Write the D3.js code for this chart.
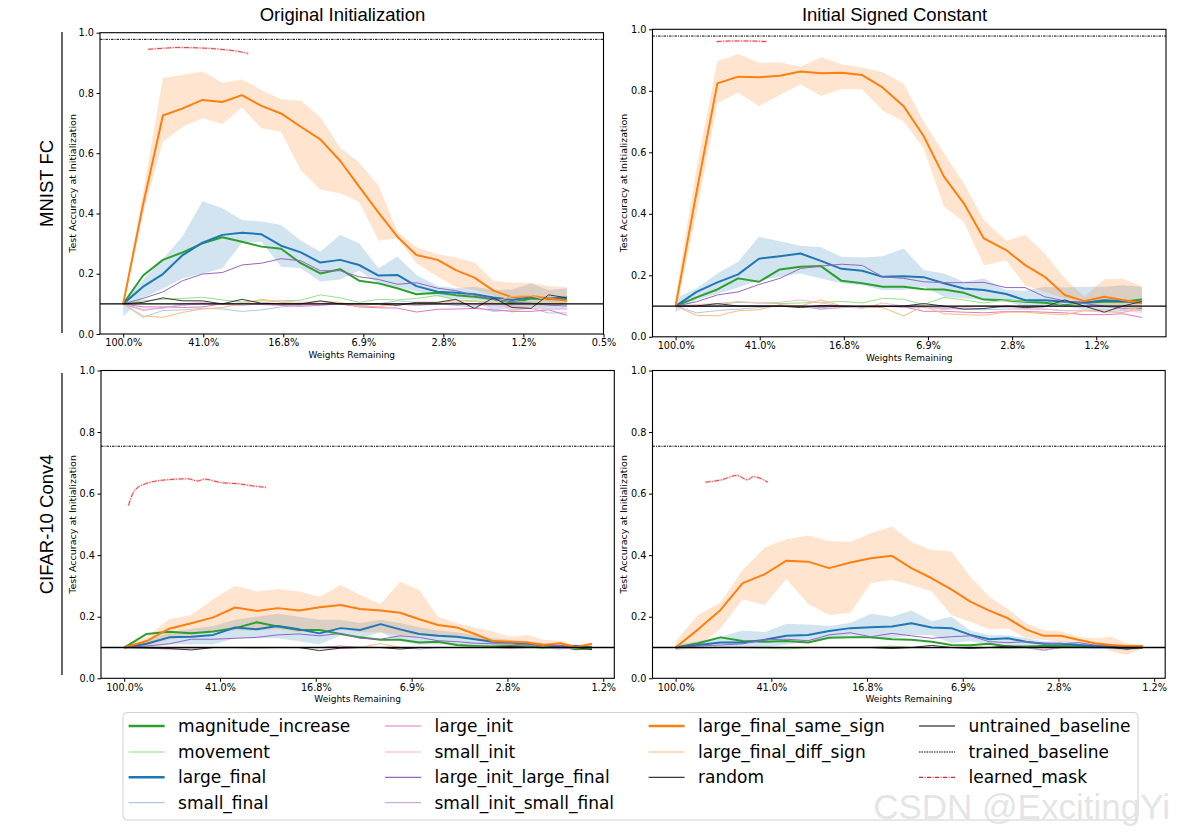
<!DOCTYPE html>
<html><head><meta charset="utf-8">
<script src="https://cdn.jsdelivr.net/npm/d3@7"></script>
<style>body{margin:0;background:#fff}</style>
</head><body><svg id="c" width="1188" height="837"></svg>
<script>
// ---------- categories / ticks ----------
const seriesKeys = ["magnitude_increase","movement","large_final","small_final","large_init","small_init",
  "large_init_large_final","small_init_small_final","large_final_same_sign","large_final_diff_sign","random"];
const legendKeys = ["magnitude_increase","movement","large_final","small_final","large_init","small_init",
  "large_init_large_final","small_init_small_final","large_final_same_sign","large_final_diff_sign","random",
  "untrained_baseline","trained_baseline","learned_mask"];
const colTitles = ["Original Initialization","Initial Signed Constant"];
const rowTitles = ["MNIST FC","CIFAR-10 Conv4"];
const xTickValues = [100, 40.96, 16.78, 6.872, 2.815, 1.153, 0.472];
const xTickLabels = ["100.0%","41.0%","16.8%","6.9%","2.8%","1.2%","0.5%"];
const yTickValues = [0, 0.2, 0.4, 0.6, 0.8, 1.0];
// weights remaining (%) at each pruning iteration
const mnistRemaining = [100,80.1,64.2,51.5,41.3,33.1,26.6,21.4,17.2,13.8,11.1,8.9,7.2,5.8,4.7,3.8,3.0,2.45,1.99,1.61,1.31,1.06,0.87,0.71];
const cifarRemaining = [100,81.1,65.8,53.5,43.6,35.6,29.1,23.9,19.6,16.2,13.3,11.1,9.18,7.65,6.40,5.37,4.51,3.81,3.23,2.75,2.34,2.01,1.72,1.49,1.28];
const untrainedBaseline = 0.1;
const mnistTrained = 0.978;
const cifarTrained = 0.754;

// ---------- MNIST FC, original initialization ----------
const tl_magnitude_increase = [0.10,0.194,0.246,0.271,0.301,0.321,0.306,0.290,0.283,0.235,0.201,0.215,0.177,0.168,0.152,0.132,0.137,0.129,0.124,0.115,0.104,0.118,0.115,0.115];
const tl_movement = [0.10,0.11,0.115,0.118,0.122,0.113,0.106,0.11,0.11,0.112,0.13,0.12,0.105,0.115,0.113,0.118,0.128,0.113,0.11,0.10,0.11,0.105,0.10,0.10];
const tl_large_final = [0.10,0.157,0.199,0.262,0.303,0.329,0.336,0.331,0.293,0.271,0.237,0.246,0.229,0.194,0.196,0.159,0.14,0.137,0.132,0.121,0.113,0.122,0.118,0.121];
const tl_small_final = [0.10,0.055,0.078,0.08,0.085,0.083,0.075,0.08,0.09,0.095,0.10,0.098,0.095,0.10,0.11,0.105,0.10,0.095,0.09,0.075,0.08,0.085,0.07,0.07];
const tl_large_init = [0.10,0.09,0.09,0.088,0.09,0.10,0.102,0.098,0.095,0.092,0.095,0.10,0.09,0.087,0.086,0.073,0.082,0.083,0.085,0.08,0.075,0.075,0.08,0.062];
const tl_small_init = [0.10,0.082,0.085,0.10,0.105,0.098,0.10,0.102,0.11,0.105,0.108,0.10,0.095,0.09,0.10,0.095,0.10,0.10,0.095,0.095,0.09,0.085,0.082,0.085];
const tl_large_init_large_final = [0.10,0.118,0.14,0.177,0.199,0.204,0.229,0.235,0.25,0.243,0.21,0.21,0.19,0.181,0.165,0.17,0.152,0.144,0.129,0.115,0.107,0.102,0.096,0.093];
const tl_small_init_small_final = [0.10,0.078,0.088,0.095,0.10,0.098,0.095,0.10,0.10,0.098,0.10,0.10,0.095,0.10,0.10,0.095,0.10,0.105,0.10,0.10,0.095,0.10,0.10,0.095];
const tl_large_final_same_sign = [0.10,0.43,0.725,0.749,0.777,0.77,0.793,0.757,0.732,0.688,0.646,0.575,0.489,0.403,0.323,0.262,0.246,0.212,0.187,0.144,0.122,0.126,0.118,0.11];
const tl_large_final_diff_sign = [0.10,0.06,0.055,0.072,0.083,0.088,0.10,0.115,0.105,0.10,0.108,0.105,0.09,0.092,0.10,0.10,0.105,0.11,0.108,0.105,0.125,0.128,0.11,0.10];
const tl_random = [0.10,0.105,0.12,0.11,0.11,0.10,0.115,0.102,0.10,0.10,0.11,0.10,0.10,0.10,0.095,0.105,0.105,0.115,0.085,0.12,0.088,0.085,0.13,0.12];
const tl_same_sign_hi = [0.105,0.47,0.85,0.86,0.871,0.834,0.845,0.81,0.779,0.774,0.719,0.618,0.569,0.492,0.34,0.288,0.265,0.254,0.237,0.177,0.17,0.17,0.159,0.155];
const tl_same_sign_lo = [0.095,0.40,0.638,0.688,0.716,0.697,0.752,0.683,0.671,0.544,0.48,0.467,0.439,0.31,0.317,0.235,0.19,0.157,0.146,0.129,0.069,0.091,0.091,0.096];
const tl_large_final_hi = [0.105,0.18,0.248,0.325,0.441,0.417,0.378,0.373,0.362,0.31,0.273,0.329,0.301,0.218,0.257,0.196,0.159,0.152,0.157,0.146,0.148,0.168,0.146,0.152];
const tl_large_final_lo = [0.058,0.12,0.15,0.185,0.20,0.218,0.303,0.306,0.223,0.218,0.174,0.181,0.21,0.168,0.157,0.14,0.124,0.118,0.113,0.074,0.088,0.088,0.08,0.08];
const tl_mask_x = [75.7,61.5,54.6,41.3,33.8,27.7,24.8];
const tl_mask_y = [0.945,0.949,0.951,0.949,0.945,0.938,0.931];

// ---------- MNIST FC, initial signed constant ----------
const tr_magnitude_increase = [0.10,0.128,0.154,0.19,0.179,0.219,0.228,0.23,0.182,0.174,0.163,0.163,0.155,0.154,0.143,0.121,0.119,0.114,0.111,0.103,0.111,0.114,0.114,0.121];
const tr_movement = [0.10,0.10,0.105,0.112,0.11,0.108,0.11,0.112,0.115,0.11,0.125,0.122,0.105,0.128,0.12,0.11,0.12,0.115,0.12,0.10,0.11,0.12,0.12,0.11];
const tr_large_final = [0.10,0.146,0.177,0.203,0.254,0.262,0.271,0.247,0.221,0.215,0.195,0.197,0.194,0.174,0.157,0.152,0.139,0.119,0.119,0.114,0.111,0.119,0.116,0.111];
const tr_small_final = [0.10,0.078,0.085,0.09,0.095,0.10,0.098,0.09,0.095,0.095,0.10,0.095,0.095,0.092,0.09,0.088,0.09,0.09,0.09,0.085,0.085,0.09,0.085,0.085];
const tr_large_init = [0.10,0.10,0.10,0.10,0.10,0.10,0.10,0.095,0.10,0.098,0.10,0.098,0.083,0.083,0.08,0.078,0.082,0.082,0.08,0.078,0.072,0.072,0.075,0.063];
const tr_small_init = [0.10,0.105,0.108,0.115,0.11,0.112,0.12,0.11,0.10,0.092,0.11,0.10,0.10,0.088,0.095,0.10,0.095,0.092,0.09,0.085,0.085,0.08,0.08,0.09];
const tr_large_init_large_final = [0.10,0.114,0.136,0.146,0.17,0.19,0.222,0.23,0.236,0.232,0.195,0.19,0.179,0.176,0.176,0.177,0.16,0.16,0.13,0.117,0.108,0.10,0.092,0.092];
const tr_small_init_small_final = [0.10,0.10,0.10,0.10,0.10,0.10,0.10,0.09,0.095,0.10,0.10,0.10,0.095,0.095,0.10,0.10,0.10,0.10,0.10,0.10,0.10,0.098,0.09,0.095];
const tr_large_final_same_sign = [0.10,0.47,0.824,0.846,0.844,0.849,0.863,0.857,0.859,0.851,0.81,0.75,0.653,0.521,0.434,0.32,0.282,0.233,0.195,0.136,0.116,0.13,0.12,0.11];
const tr_large_final_diff_sign = [0.10,0.07,0.068,0.085,0.088,0.105,0.10,0.12,0.10,0.098,0.095,0.068,0.10,0.075,0.072,0.07,0.08,0.08,0.075,0.072,0.085,0.085,0.078,0.10];
const tr_random = [0.10,0.10,0.108,0.10,0.10,0.10,0.095,0.102,0.10,0.098,0.098,0.10,0.108,0.10,0.09,0.092,0.10,0.095,0.098,0.12,0.10,0.08,0.10,0.115];
const tr_same_sign_hi = [0.13,0.55,0.895,0.92,0.891,0.893,0.878,0.909,0.886,0.876,0.86,0.824,0.70,0.597,0.499,0.38,0.312,0.331,0.271,0.19,0.13,0.187,0.19,0.163];
const tr_same_sign_lo = [0.08,0.40,0.76,0.794,0.75,0.786,0.821,0.783,0.806,0.805,0.735,0.70,0.613,0.423,0.374,0.233,0.249,0.168,0.146,0.125,0.108,0.10,0.087,0.076];
const tr_large_final_hi = [0.125,0.157,0.206,0.244,0.325,0.311,0.296,0.291,0.26,0.258,0.262,0.287,0.217,0.206,0.179,0.19,0.152,0.15,0.163,0.16,0.163,0.163,0.168,0.163];
const tr_large_final_lo = [0.08,0.12,0.14,0.16,0.184,0.195,0.206,0.19,0.174,0.168,0.152,0.152,0.163,0.13,0.125,0.119,0.114,0.098,0.098,0.10,0.087,0.092,0.092,0.087];
const tr_mask_x = [64.8,55.0,46.0,38.2];
const tr_mask_y = [0.960,0.962,0.962,0.960];

// ---------- CIFAR-10 Conv4, original initialization ----------
const bl_magnitude_increase = [0.10,0.144,0.151,0.146,0.152,0.163,0.182,0.168,0.157,0.157,0.144,0.133,0.125,0.125,0.116,0.119,0.108,0.105,0.103,0.105,0.103,0.10,0.103,0.094,0.097];
const bl_movement = [0.10,0.10,0.10,0.10,0.10,0.10,0.098,0.10,0.10,0.10,0.10,0.102,0.10,0.10,0.10,0.10,0.10,0.102,0.10,0.10,0.10,0.10,0.10,0.10,0.10];
const bl_large_final = [0.10,0.112,0.133,0.135,0.141,0.165,0.159,0.17,0.159,0.146,0.163,0.157,0.176,0.159,0.144,0.138,0.135,0.127,0.119,0.116,0.112,0.108,0.103,0.105,0.101];
const bl_small_final = [0.10,0.10,0.10,0.098,0.10,0.10,0.10,0.10,0.10,0.10,0.10,0.10,0.10,0.10,0.10,0.10,0.10,0.10,0.10,0.10,0.10,0.10,0.10,0.098,0.10];
const bl_large_init = [0.10,0.10,0.098,0.10,0.10,0.10,0.10,0.10,0.10,0.10,0.105,0.10,0.10,0.10,0.10,0.10,0.10,0.10,0.10,0.098,0.10,0.10,0.10,0.098,0.10];
const bl_small_init = [0.10,0.10,0.093,0.095,0.10,0.10,0.10,0.10,0.10,0.10,0.10,0.10,0.10,0.10,0.10,0.10,0.10,0.10,0.10,0.10,0.10,0.10,0.10,0.10,0.10];
const bl_large_init_large_final = [0.10,0.105,0.112,0.127,0.127,0.13,0.133,0.141,0.144,0.138,0.146,0.13,0.127,0.138,0.133,0.122,0.119,0.114,0.112,0.112,0.108,0.108,0.105,0.103,0.10];
const bl_small_init_small_final = [0.10,0.10,0.10,0.10,0.10,0.10,0.10,0.10,0.10,0.10,0.10,0.10,0.10,0.10,0.095,0.10,0.10,0.10,0.10,0.10,0.10,0.10,0.095,0.10,0.10];
const bl_large_final_same_sign = [0.10,0.121,0.161,0.179,0.198,0.23,0.219,0.228,0.22,0.231,0.238,0.225,0.22,0.213,0.192,0.173,0.165,0.144,0.121,0.119,0.116,0.108,0.114,0.101,0.112];
const bl_large_final_diff_sign = [0.10,0.10,0.10,0.10,0.10,0.10,0.10,0.10,0.10,0.10,0.10,0.10,0.113,0.10,0.10,0.10,0.10,0.10,0.10,0.10,0.10,0.10,0.10,0.10,0.10];
const bl_random = [0.10,0.098,0.097,0.092,0.10,0.10,0.10,0.10,0.10,0.09,0.098,0.10,0.10,0.095,0.10,0.10,0.10,0.10,0.10,0.103,0.10,0.10,0.10,0.10,0.093];
const bl_same_sign_hi = [0.105,0.135,0.192,0.206,0.257,0.301,0.282,0.29,0.282,0.265,0.303,0.271,0.241,0.314,0.287,0.20,0.179,0.165,0.152,0.135,0.141,0.125,0.122,0.108,0.114];
const bl_same_sign_lo = [0.095,0.105,0.125,0.14,0.15,0.155,0.155,0.16,0.15,0.155,0.16,0.15,0.15,0.14,0.14,0.135,0.13,0.125,0.11,0.105,0.105,0.10,0.10,0.095,0.10];
const bl_large_final_hi = [0.105,0.12,0.15,0.16,0.17,0.19,0.20,0.21,0.20,0.19,0.19,0.18,0.19,0.18,0.165,0.155,0.15,0.14,0.13,0.125,0.12,0.115,0.11,0.11,0.105];
const bl_large_final_lo = [0.095,0.10,0.11,0.11,0.11,0.13,0.13,0.13,0.12,0.11,0.14,0.13,0.15,0.12,0.11,0.11,0.11,0.105,0.105,0.10,0.10,0.10,0.095,0.095,0.095];
const bl_mask_x = [96.1,91.0,82.0,67.1,55.0,50.5,47.4,40.7,34.5,30.2,26.5];
const bl_mask_y = [0.561,0.609,0.632,0.645,0.648,0.641,0.647,0.636,0.632,0.625,0.62];

// ---------- CIFAR-10 Conv4, initial signed constant ----------
const br_magnitude_increase = [0.10,0.114,0.133,0.121,0.119,0.121,0.116,0.132,0.133,0.133,0.127,0.125,0.119,0.108,0.107,0.112,0.103,0.103,0.105,0.105,0.103,0.103,0.101,0.098,0.10];
const br_movement = [0.10,0.10,0.10,0.10,0.098,0.095,0.10,0.10,0.10,0.10,0.105,0.10,0.10,0.10,0.10,0.10,0.098,0.10,0.10,0.10,0.10,0.10,0.10,0.10,0.10];
const br_large_final = [0.10,0.108,0.116,0.116,0.125,0.138,0.141,0.154,0.163,0.166,0.168,0.179,0.165,0.163,0.141,0.127,0.13,0.119,0.112,0.112,0.108,0.105,0.103,0.098,0.101];
const br_small_final = [0.10,0.10,0.10,0.10,0.10,0.10,0.10,0.10,0.10,0.10,0.10,0.10,0.10,0.10,0.10,0.10,0.10,0.10,0.10,0.10,0.10,0.10,0.10,0.10,0.10];
const br_large_init = [0.10,0.10,0.10,0.10,0.10,0.10,0.10,0.10,0.10,0.10,0.10,0.10,0.10,0.10,0.10,0.10,0.10,0.10,0.092,0.10,0.10,0.10,0.10,0.10,0.10];
const br_small_init = [0.10,0.10,0.10,0.10,0.10,0.10,0.10,0.10,0.10,0.10,0.10,0.10,0.10,0.10,0.10,0.10,0.10,0.10,0.10,0.10,0.10,0.10,0.10,0.10,0.10];
const br_large_init_large_final = [0.10,0.105,0.108,0.112,0.125,0.127,0.122,0.141,0.148,0.135,0.146,0.138,0.13,0.135,0.138,0.119,0.116,0.119,0.114,0.112,0.116,0.108,0.108,0.10,0.10];
const br_small_init_small_final = [0.10,0.10,0.10,0.10,0.10,0.10,0.10,0.10,0.10,0.10,0.10,0.10,0.10,0.10,0.10,0.10,0.10,0.10,0.09,0.10,0.10,0.10,0.10,0.10,0.10];
const br_large_final_same_sign = [0.10,0.159,0.222,0.309,0.338,0.382,0.379,0.358,0.376,0.39,0.398,0.358,0.325,0.289,0.249,0.22,0.195,0.159,0.138,0.138,0.125,0.114,0.108,0.105,0.105];
const br_large_final_diff_sign = [0.10,0.098,0.10,0.10,0.10,0.10,0.10,0.10,0.10,0.10,0.10,0.10,0.10,0.10,0.10,0.10,0.10,0.10,0.10,0.10,0.10,0.10,0.10,0.10,0.10];
const br_random = [0.10,0.10,0.10,0.10,0.10,0.10,0.10,0.10,0.10,0.10,0.097,0.10,0.107,0.10,0.097,0.10,0.105,0.10,0.10,0.10,0.10,0.10,0.10,0.095,0.10];
const br_same_sign_hi = [0.12,0.206,0.246,0.352,0.425,0.452,0.464,0.446,0.444,0.471,0.493,0.444,0.417,0.412,0.33,0.265,0.224,0.179,0.157,0.152,0.135,0.13,0.135,0.114,0.108];
const br_same_sign_lo = [0.092,0.103,0.162,0.257,0.238,0.323,0.242,0.206,0.213,0.309,0.32,0.303,0.282,0.206,0.184,0.159,0.163,0.13,0.125,0.119,0.119,0.114,0.087,0.076,0.098];
const br_large_final_hi = [0.11,0.12,0.135,0.155,0.15,0.177,0.175,0.17,0.18,0.21,0.20,0.22,0.185,0.20,0.155,0.14,0.14,0.13,0.12,0.12,0.118,0.115,0.11,0.105,0.105];
const br_large_final_lo = [0.09,0.10,0.10,0.10,0.10,0.11,0.12,0.13,0.14,0.13,0.13,0.14,0.14,0.115,0.12,0.11,0.105,0.105,0.10,0.10,0.10,0.095,0.095,0.09,0.095];
const br_mask_x = [75.8,65.0,56.6,51.1,48.5,42.3];
const br_mask_y = [0.637,0.645,0.659,0.645,0.655,0.637];

// ---------- styles ----------
const colors = {
  magnitude_increase:"#2ca02c", movement:"#98df8a", large_final:"#1f77b4", small_final:"#aec7e8",
  large_init:"#e377c2", small_init:"#f7b6d2", large_init_large_final:"#9467bd", small_init_small_final:"#c5b0d5",
  large_final_same_sign:"#ff7f0e", large_final_diff_sign:"#ffbb78", random:"#3a3a3a",
  untrained_baseline:"#000", trained_baseline:"#000", learned_mask:"#d62728"};
const thick = new Set(["magnitude_increase","large_final","large_final_same_sign"]);
const SANS = '"DejaVu Sans", sans-serif';
const ARIAL = '"Liberation Sans", Arial, sans-serif';

const panels = [
  {pre:"tl", xs:mnistRemaining, trained:mnistTrained, box:{l:100,r:603.5,t:32.7,b:334}, xDomain:[129.5,0.472], ylabX:72.5, xlabY:355, maskX:tl_mask_x, maskY:tl_mask_y,
   bands:[["large_final",tl_large_final_lo,tl_large_final_hi],["large_final_same_sign",tl_same_sign_lo,tl_same_sign_hi]]},
  {pre:"tr", xs:mnistRemaining, trained:mnistTrained, box:{l:652.5,r:1166,t:29.3,b:336.8}, xDomain:[127.8,0.55], ylabX:623.5, xlabY:358.3, maskX:tr_mask_x, maskY:tr_mask_y,
   bands:[["large_final",tr_large_final_lo,tr_large_final_hi],["large_final_same_sign",tr_same_sign_lo,tr_same_sign_hi]]},
  {pre:"bl", xs:cifarRemaining, trained:cifarTrained, box:{l:101,r:614.3,t:370.5,b:678.3}, xDomain:[124.1,1.04], ylabX:72.5, xlabY:699.3, maskX:bl_mask_x, maskY:bl_mask_y,
   bands:[["large_final",bl_large_final_lo,bl_large_final_hi],["large_final_same_sign",bl_same_sign_lo,bl_same_sign_hi]]},
  {pre:"br", xs:cifarRemaining, trained:cifarTrained, box:{l:652.5,r:1165.2,t:370.5,b:678.3}, xDomain:[124.1,1.04], ylabX:623.5, xlabY:699.3, maskX:br_mask_x, maskY:br_mask_y,
   bands:[["large_final",br_large_final_lo,br_large_final_hi],["large_final_same_sign",br_same_sign_lo,br_same_sign_hi]]}
];
const seriesData = {
  tl:{magnitude_increase:tl_magnitude_increase,movement:tl_movement,large_final:tl_large_final,small_final:tl_small_final,large_init:tl_large_init,small_init:tl_small_init,large_init_large_final:tl_large_init_large_final,small_init_small_final:tl_small_init_small_final,large_final_same_sign:tl_large_final_same_sign,large_final_diff_sign:tl_large_final_diff_sign,random:tl_random},
  tr:{magnitude_increase:tr_magnitude_increase,movement:tr_movement,large_final:tr_large_final,small_final:tr_small_final,large_init:tr_large_init,small_init:tr_small_init,large_init_large_final:tr_large_init_large_final,small_init_small_final:tr_small_init_small_final,large_final_same_sign:tr_large_final_same_sign,large_final_diff_sign:tr_large_final_diff_sign,random:tr_random},
  bl:{magnitude_increase:bl_magnitude_increase,movement:bl_movement,large_final:bl_large_final,small_final:bl_small_final,large_init:bl_large_init,small_init:bl_small_init,large_init_large_final:bl_large_init_large_final,small_init_small_final:bl_small_init_small_final,large_final_same_sign:bl_large_final_same_sign,large_final_diff_sign:bl_large_final_diff_sign,random:bl_random},
  br:{magnitude_increase:br_magnitude_increase,movement:br_movement,large_final:br_large_final,small_final:br_small_final,large_init:br_large_init,small_init:br_small_init,large_init_large_final:br_large_init_large_final,small_init_small_final:br_small_init_small_final,large_final_same_sign:br_large_final_same_sign,large_final_diff_sign:br_large_final_diff_sign,random:br_random}
};

const svg = d3.select("#c");
svg.append("rect").attr("width",1188).attr("height",837).attr("fill","#fff");
const defs = svg.append("defs");

panels.forEach((p,i)=>{
  const b = p.box;
  const x = d3.scaleLog().domain(p.xDomain).range([b.l,b.r]);
  const y = d3.scaleLinear().domain([0,1]).range([b.b,b.t]);
  defs.append("clipPath").attr("id","clip"+i).append("rect")
    .attr("x",b.l).attr("y",b.t).attr("width",b.r-b.l).attr("height",b.b-b.t);
  const g = svg.append("g");
  const plot = g.append("g").attr("clip-path",`url(#clip${i})`);

  p.bands.forEach(([key,lo,hi])=>{
    const area = d3.area().x((d,j)=>x(p.xs[j])).y0((d,j)=>y(lo[j])).y1(d=>y(d));
    plot.append("path").datum(hi).attr("d",area).attr("fill",colors[key]).attr("fill-opacity",0.2).attr("stroke","none");
  });
  const sd = seriesData[p.pre];
  seriesKeys.forEach(k=>{
    const line = d3.line().x((d,j)=>x(p.xs[j])).y(d=>y(d));
    plot.append("path").datum(sd[k]).attr("d",line).attr("fill","none")
      .attr("stroke",colors[k]).attr("stroke-width",thick.has(k)?2:1).attr("stroke-linejoin","round");
  });
  const [x0,x1] = x.range();
  plot.append("line").attr("x1",x0).attr("x2",x1).attr("y1",y(untrainedBaseline)).attr("y2",y(untrainedBaseline))
    .attr("stroke","#000").attr("stroke-width",1.3);
  plot.append("line").attr("x1",x0).attr("x2",x1).attr("y1",y(p.trained)).attr("y2",y(p.trained))
    .attr("stroke","#000").attr("stroke-width",1).attr("stroke-dasharray","2.5,1,1,1");
  const maskLine = d3.line().x((d,j)=>x(p.maskX[j])).y(d=>y(d)).curve(d3.curveMonotoneX);
  plot.append("path").datum(p.maskY).attr("d",maskLine).attr("fill","none")
    .attr("stroke",colors.learned_mask).attr("stroke-opacity",0.15).attr("stroke-width",2.5);
  plot.append("path").datum(p.maskY).attr("d",maskLine).attr("fill","none")
    .attr("stroke",colors.learned_mask).attr("stroke-opacity",0.85).attr("stroke-width",1).attr("stroke-dasharray","5,1.5,1,1.5");

  // frame
  g.append("rect").attr("x",b.l).attr("y",b.t).attr("width",b.r-b.l).attr("height",b.b-b.t)
    .attr("fill","none").attr("stroke","#000").attr("stroke-width",1.1);

  const lo = Math.min(...p.xDomain), hiD = Math.max(...p.xDomain);
  const tv = xTickValues.filter(v=>v>=lo && v<=hiD);
  const xa = d3.axisBottom(x).tickValues(tv).tickFormat(v=>xTickLabels[xTickValues.indexOf(v)]).tickSize(3.5).tickPadding(2);
  const gx = g.append("g").attr("transform",`translate(0,${b.b})`).call(xa);
  gx.select(".domain").remove();
  gx.selectAll("text").style("font-size","9.7px").style("font-family",SANS).attr("fill","#000");
  const ya = d3.axisLeft(y).tickValues(yTickValues).tickFormat(d3.format(".1f")).tickSize(3.5).tickPadding(2.5);
  const gy = g.append("g").attr("transform",`translate(${b.l},0)`).call(ya);
  gy.select(".domain").remove();
  gy.selectAll("text").style("font-size","9.7px").style("font-family",SANS).attr("fill","#000");

  g.append("text").attr("x",(b.l+b.r)/2).attr("y",p.xlabY).attr("text-anchor","middle").attr("dominant-baseline","central")
    .style("font-family",SANS).style("font-size","9px").text("Weights Remaining");
  g.append("text").attr("transform",`translate(${p.ylabX},${(b.t+b.b)/2}) rotate(-90)`).attr("text-anchor","middle")
    .attr("dominant-baseline","central").style("font-family",SANS).style("font-size","9.5px").text("Test Accuracy at Initialization");
});

// column titles
[[342.5,colTitles[0]],[894.5,colTitles[1]]].forEach(([cx,t])=>{
  svg.append("text").attr("x",cx).attr("y",14).attr("text-anchor","middle").attr("dominant-baseline","central")
    .style("font-family",ARIAL).style("font-size","18.5px").text(t);
});
// row titles and brackets
[[183.4,rowTitles[0],32,333],[524.4,rowTitles[1],373,675]].forEach(([cy,t,y0,y1])=>{
  svg.append("text").attr("transform",`translate(46.7,${cy}) rotate(-90)`).attr("text-anchor","middle").attr("dominant-baseline","central")
    .style("font-family",ARIAL).style("font-size","18.5px").text(t);
  svg.append("line").attr("x1",62).attr("x2",62).attr("y1",y0).attr("y2",y1).attr("stroke","#000").attr("stroke-width",1.2);
});

// legend
const lg = svg.append("g");
lg.append("rect").attr("x",123).attr("y",712.5).attr("width",1015).attr("height",107.5).attr("rx",4)
  .attr("fill","#fff").attr("stroke","#d0d0d0").attr("stroke-width",1);
const colX = [128.6,385,648.6,919];
const rowY = [726,752,777.3,802.7];
const perCol = [4,4,3,3];
let idx = 0;
perCol.forEach((n,c)=>{
  for(let r=0;r<n;r++){
    const k = legendKeys[idx++];
    const ln = lg.append("line").attr("x1",colX[c]).attr("x2",colX[c]+36).attr("y1",rowY[r]).attr("y2",rowY[r])
      .attr("stroke",colors[k]).attr("stroke-width",thick.has(k)?2.5:1.2);
    if(k==="trained_baseline") ln.attr("stroke-dasharray","1.5,1");
    if(k==="learned_mask") ln.attr("stroke-dasharray","4,1.5,1,1.5");
    lg.append("text").attr("x",colX[c]+49.5).attr("y",rowY[r]).attr("dominant-baseline","central")
      .style("font-family",SANS).style("font-size","17px").text(k);
  }
});

// watermark
svg.append("text").attr("x",1170).attr("y",806).attr("text-anchor","end").attr("dominant-baseline","central")
  .style("font-family",ARIAL).style("font-size","35px").attr("fill","#e2e2e2").attr("fill-opacity",0.9)
  .text("CSDN @ExcitingYi");
</script></body></html>
